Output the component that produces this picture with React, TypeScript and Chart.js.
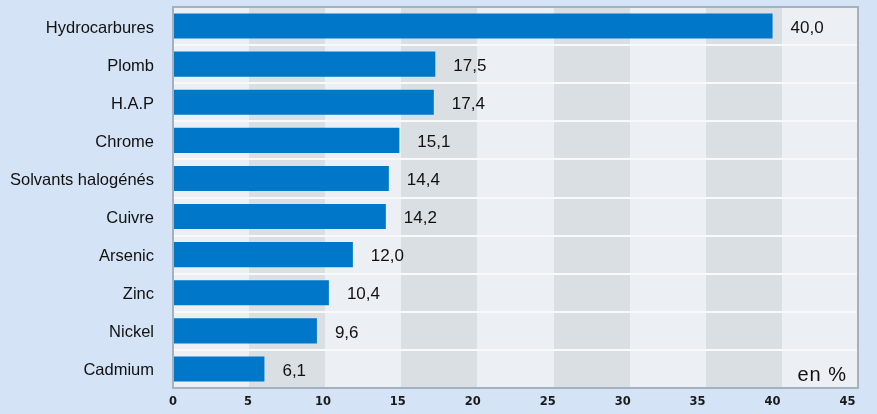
import React, { useEffect, useRef } from "react";
import { Chart, registerables } from "chart.js";

Chart.register(...registerables);

const categories = [
  "Hydrocarbures",
  "Plomb",
  "H.A.P",
  "Chrome",
  "Solvants halogénés",
  "Cuivre",
  "Arsenic",
  "Zinc",
  "Nickel",
  "Cadmium",
];
const values = [40.0, 17.5, 17.4, 15.1, 14.4, 14.2, 12.0, 10.4, 9.6, 6.1];
const xTicks = [0, 5, 10, 15, 20, 25, 30, 35, 40, 45];
const AXIS_MAX = 45.7;
const unitLabel = "en %";

const fmt = (v: number) => v.toFixed(1).replace(".", ",");

const decoPlugin = {
  id: "deco",
  beforeDraw(chart: any) {
    const { ctx, chartArea: a, width, height } = chart;
    ctx.save();
    ctx.fillStyle = "#d4e3f5";
    ctx.fillRect(0, 0, width, height);
    const bands = 9;
    const bw = (a.right - a.left) / bands;
    for (let i = 0; i < bands; i++) {
      ctx.fillStyle = i % 2 === 0 ? "#ecf0f4" : "#dadfe4";
      const x0 = Math.round(a.left + i * bw);
      const x1 = Math.round(a.left + (i + 1) * bw);
      ctx.fillRect(x0, a.top, x1 - x0, a.bottom - a.top);
    }
    ctx.restore();
  },
  afterDatasetsDraw(chart: any) {
    const { ctx, chartArea: a } = chart;
    const meta = chart.getDatasetMeta(0);
    ctx.save();
    ctx.fillStyle = "#111";
    ctx.font = "17px 'Liberation Sans', Arial, sans-serif";
    ctx.textAlign = "left";
    ctx.textBaseline = "middle";
    meta.data.forEach((el: any, i: number) => {
      ctx.fillText(fmt(values[i]), el.x + 18, el.y + 2);
    });
    ctx.font = "20px 'Liberation Sans', Arial, sans-serif";
    (ctx as any).letterSpacing = "1px";
    ctx.textAlign = "right";
    ctx.textBaseline = "alphabetic";
    ctx.fillText(unitLabel, a.right - 11, a.bottom - 7);
    (ctx as any).letterSpacing = "0px";
    ctx.strokeStyle = "#a4b2bf";
    ctx.lineWidth = 2;
    ctx.strokeRect(a.left, a.top, a.right - a.left, a.bottom - a.top);
    ctx.restore();
  },
};

export default function App() {
  const ref = useRef<HTMLCanvasElement | null>(null);
  useEffect(() => {
    document.body.style.margin = "0";
    const chart = new Chart(ref.current as HTMLCanvasElement, {
      type: "bar",
      data: {
        labels: categories,
        datasets: [
          {
            data: values,
            backgroundColor: "#0077c8",
            borderWidth: 0,
            barPercentage: 0.66,
            categoryPercentage: 1,
          },
        ],
      },
      options: {
        indexAxis: "y",
        animation: false,
        responsive: false,
        layout: { padding: { top: 7, right: 19, left: 0, bottom: 0 } },
        plugins: { legend: { display: false }, tooltip: { enabled: false } },
        scales: {
          x: {
            type: "linear",
            min: 0,
            max: AXIS_MAX,
            afterBuildTicks(scale: any) {
              scale.ticks = xTicks.map((v) => ({ value: v }));
            },
            afterFit(scale: any) {
              scale.height = 26;
              scale.paddingLeft = 0;
              scale.paddingRight = 0;
              scale.paddingTop = 0;
              scale.paddingBottom = 0;
            },
            grid: { display: false, drawTicks: false },
            border: { display: false },
            ticks: {
              padding: 7,
              color: "#1a1a1a",
              font: { family: "'DejaVu Sans', sans-serif", size: 11.5, weight: "bold" },
              maxRotation: 0,
              autoSkip: false,
            },
          },
          y: {
            type: "category",
            afterFit(scale: any) {
              scale.width = 173;
              scale.paddingLeft = 0;
              scale.paddingRight = 0;
              scale.paddingTop = 0;
              scale.paddingBottom = 0;
            },
            grid: {
              offset: true,
              color: "#f7f9fb",
              lineWidth: 2,
              drawTicks: true,
              tickLength: 16,
              tickColor: "rgba(0,0,0,0)",
            },
            border: { display: false },
            ticks: {
              padding: 3,
              labelOffset: 2,
              color: "#111",
              font: { family: "'Liberation Sans', Arial, sans-serif", size: 16.5 },
            },
          },
        },
      },
      plugins: [decoPlugin],
    } as any);
    return () => chart.destroy();
  }, []);
  return (
    <div style={{ width: 877, height: 414 }}>
      <canvas ref={ref} width={877} height={414} style={{ display: "block" }} />
    </div>
  );
}
